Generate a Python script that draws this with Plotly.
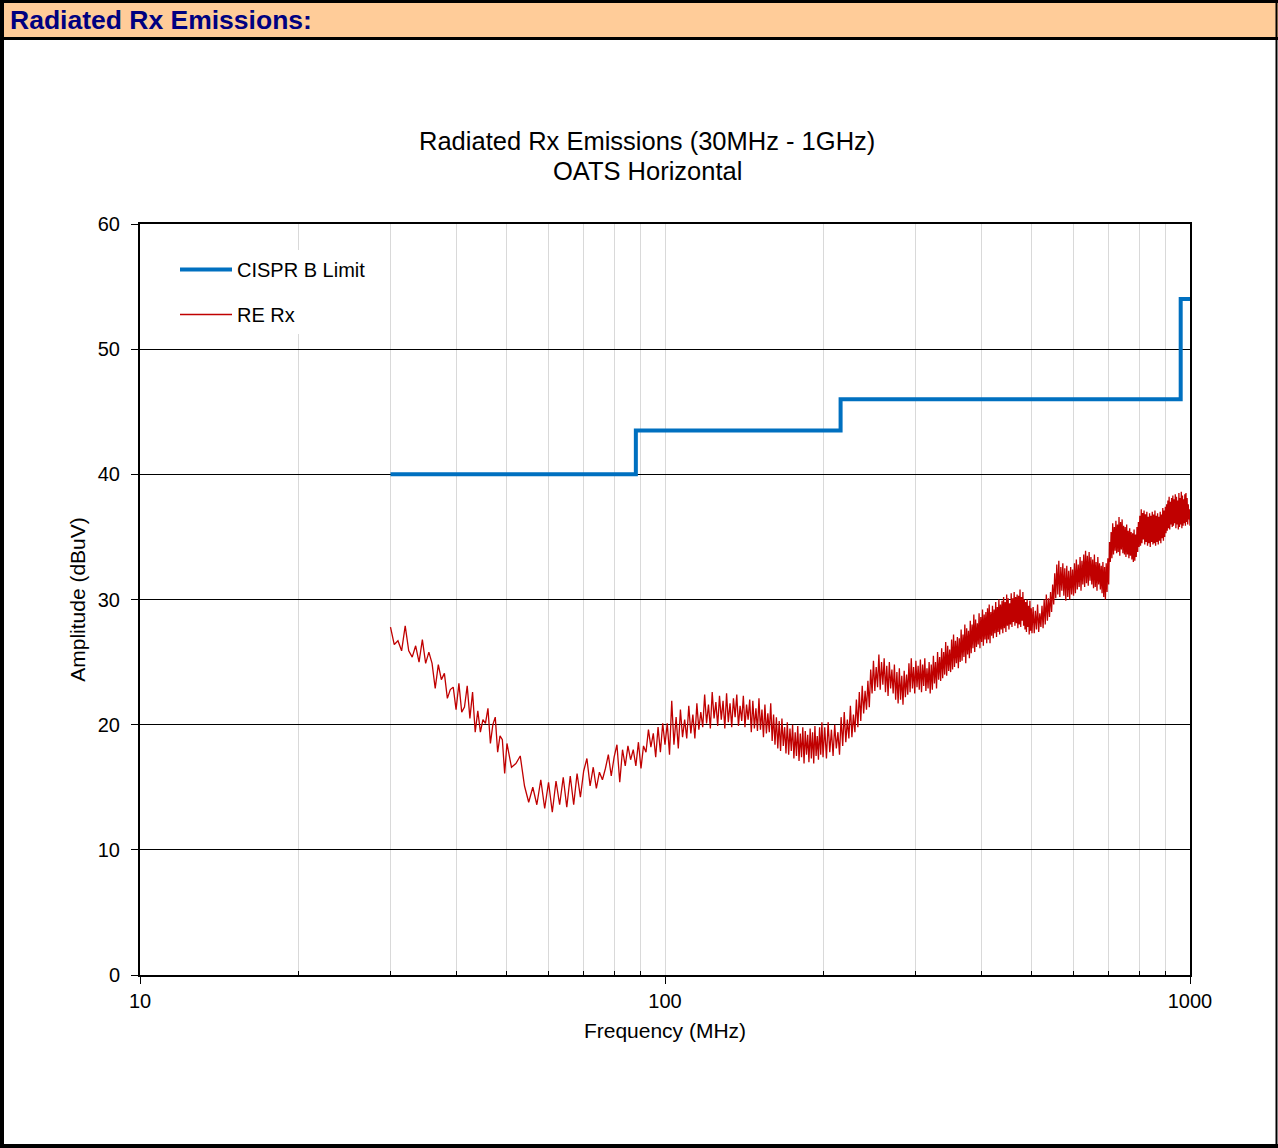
import plotly.graph_objects as go

# ---------------- DATA ----------------
limit_freq = [30, 88, 216, 960, 1000]
limit_level = [40, 43.5, 46, 54, 54]

freq_a = [30.0, 30.5, 31.0, 31.5, 32.0, 32.5, 33.0, 33.5, 34.0, 34.5,
          35.0, 35.5, 36.0, 36.5, 37.0, 37.5, 38.0, 38.5, 39.0, 39.5,
          40.0, 40.5, 41.0, 41.5, 42.0, 42.5, 43.0, 43.5, 44.0, 44.5,
          45.0, 45.5, 46.0, 46.5, 47.0, 47.5, 48.0, 48.5, 49.0, 49.5,
          50.0]
level_a = [27.8, 26.4, 26.7, 25.9, 27.9, 25.9, 25.4, 26.3, 25.0, 26.8,
           24.9, 25.8, 24.9, 22.9, 24.8, 23.6, 24.1, 22.1, 22.8, 23.0,
           21.2, 23.3, 21.0, 21.4, 23.1, 20.5, 22.6, 19.4, 21.1, 19.4,
           20.4, 20.1, 21.3, 18.5, 20.0, 20.6, 17.8, 19.1, 18.8, 16.1,
           18.5]

freq_b = [51, 52, 53, 54, 55, 56, 57, 58, 59, 60,
          61, 62, 63, 64, 65, 66, 67, 68, 69, 70,
          71, 72, 73, 74, 75, 76, 77, 78, 79, 80,
          81, 82, 83, 84, 85, 86, 87, 88, 89, 90,
          91, 92, 93, 94, 95, 96, 97, 98, 99, 100]
level_b = [16.6, 16.9, 17.5, 15.1, 13.8, 15.0, 13.6, 15.6, 13.3, 15.4,
           13.0, 15.5, 13.6, 15.8, 13.4, 15.9, 13.6, 16.1, 14.2, 16.3,
           17.3, 15.1, 16.6, 14.9, 16.2, 15.6, 16.5, 17.6, 15.9, 17.4,
           18.4, 15.4, 18.0, 16.7, 18.3, 17.2, 18.0, 16.7, 18.6, 16.5,
           18.3, 17.8, 19.6, 18.2, 19.3, 17.4, 19.8, 17.8, 20.1, 18.4]

freq_c = [101, 102, 103, 104, 105, 106, 107, 108, 109, 110,
          111, 112, 113, 114, 115, 116, 117, 118, 119, 120,
          121, 122, 123, 124, 125, 126, 127, 128, 129, 130,
          131, 132, 133, 134, 135, 136, 137, 138, 139, 140,
          141, 142, 143, 144, 145, 146, 147, 148, 149, 150,
          151, 152, 153, 154, 155, 156, 157, 158, 159, 160,
          161, 162, 163, 164, 165, 166, 167, 168, 169, 170,
          171, 172, 173, 174, 175, 176, 177, 178, 179, 180,
          181, 182, 183, 184, 185, 186, 187, 188, 189, 190,
          191, 192, 193, 194, 195, 196, 197, 198, 199, 200]
level_c = [20.1, 17.6, 21.9, 18.4, 20.6, 18.1, 21.2, 19.0, 20.4, 18.9,
           21.5, 19.3, 20.8, 18.9, 21.7, 19.6, 21.0, 19.8, 22.4, 20.1,
           21.6, 19.7, 22.6, 20.5, 21.8, 19.9, 22.3, 20.4, 21.9, 19.7,
           22.5, 20.2, 21.7, 19.8, 22.1, 20.6, 22.4, 19.9, 21.5, 20.3,
           22.3, 19.8, 21.6, 20.4, 22.0, 19.4, 21.9, 19.7, 21.3, 19.5,
           22.1, 19.6, 21.2, 19.0, 21.6, 19.3, 20.9, 19.4, 21.7, 18.7,
           20.8, 18.4, 20.6, 18.1, 20.3, 17.9, 20.5, 18.3, 19.8, 17.7,
           20.2, 17.6, 19.7, 17.9, 20.0, 17.3, 19.4, 17.5, 19.9, 17.1,
           19.3, 17.4, 19.8, 16.9, 19.5, 17.6, 19.2, 17.0, 19.7, 17.3,
           19.4, 16.9, 19.9, 17.5, 19.1, 17.2, 19.8, 17.6, 20.2, 17.4]

freq_d = [201.5, 203.0, 204.5, 206.0, 207.5, 209.0, 210.5, 212.0, 213.5, 215.0,
          216.5, 218.0, 219.5, 221.0, 222.5, 224.0, 225.5, 227.0, 228.5, 230.0,
          231.5, 233.0, 234.5, 236.0, 237.5, 239.0, 240.5, 242.0, 243.5, 245.0,
          246.5, 248.0, 249.5, 251.0, 252.5, 254.0, 255.5, 257.0, 258.5, 260.0,
          261.5, 263.0, 264.5, 266.0, 267.5, 269.0, 270.5, 272.0, 273.5, 275.0,
          276.5, 278.0, 279.5, 281.0, 282.5, 284.0, 285.5, 287.0, 288.5, 290.0,
          291.5, 293.0, 294.5, 296.0, 297.5, 299.0, 300.5, 302.0, 303.5, 305.0,
          306.5, 308.0, 309.5, 311.0, 312.5, 314.0, 315.5, 317.0, 318.5, 320.0,
          321.5, 323.0, 324.5, 326.0, 327.5, 329.0, 330.5, 332.0, 333.5, 335.0,
          336.5, 338.0, 339.5, 341.0, 342.5, 344.0, 345.5, 347.0, 348.5, 350.0,
          351.5, 353.0, 354.5, 356.0, 357.5, 359.0, 360.5, 362.0, 363.5, 365.0,
          366.5, 368.0, 369.5, 371.0, 372.5, 374.0, 375.5, 377.0, 378.5, 380.0,
          381.5, 383.0, 384.5, 386.0, 387.5, 389.0, 390.5, 392.0, 393.5, 395.0,
          396.5, 398.0, 399.5, 401.0, 402.5, 404.0, 405.5, 407.0, 408.5, 410.0,
          411.5, 413.0, 414.5, 416.0, 417.5, 419.0, 420.5, 422.0, 423.5, 425.0,
          426.5, 428.0, 429.5, 431.0, 432.5, 434.0, 435.5, 437.0, 438.5, 440.0,
          441.5, 443.0, 444.5, 446.0, 447.5, 449.0, 450.5, 452.0, 453.5, 455.0,
          456.5, 458.0, 459.5, 461.0, 462.5, 464.0, 465.5, 467.0, 468.5, 470.0,
          471.5, 473.0, 474.5, 476.0, 477.5, 479.0, 480.5, 482.0, 483.5, 485.0,
          486.5, 488.0, 489.5, 491.0, 492.5, 494.0, 495.5, 497.0, 498.5, 500.0]
level_d = [19.8, 17.3, 20.2, 17.8, 19.6, 17.5, 20.0, 18.1, 19.4, 17.6,
           20.6, 18.3, 21.0, 18.6, 20.4, 18.9, 21.5, 19.0, 20.8, 19.4,
           22.0, 19.8, 22.6, 20.3, 23.1, 20.9, 22.7, 21.2, 23.5, 21.4,
           24.4, 22.5, 25.1, 22.7, 24.6, 23.0, 25.6, 22.8, 25.0, 23.2,
           25.3, 22.6, 24.7, 22.3, 25.0, 22.9, 24.4, 22.5, 24.8, 22.0,
           24.2, 21.7, 24.5, 22.0, 23.9, 21.6, 24.3, 22.2, 24.0, 22.4,
           24.9, 22.6, 25.3, 22.9, 24.6, 22.5, 25.1, 23.0, 24.7, 22.8,
           25.2, 22.6, 24.8, 23.1, 25.3, 22.7, 24.5, 22.9, 25.0, 22.5,
           24.8, 22.8, 25.5, 23.3, 25.0, 22.9, 25.8, 23.6, 25.4, 23.5,
           26.1, 23.7, 25.8, 24.0, 26.6, 23.9, 26.3, 24.3, 26.0, 24.2,
           26.8, 24.4, 27.2, 24.6, 26.7, 24.9, 27.0, 24.5, 26.9, 25.0,
           27.6, 25.1, 27.2, 25.4, 28.0, 24.9, 27.7, 25.6, 27.5, 25.3,
           28.3, 25.7, 28.0, 26.1, 28.8, 25.8, 28.4, 26.2, 28.1, 26.4,
           28.9, 26.1, 28.6, 26.6, 29.2, 26.3, 28.8, 26.8, 29.0, 26.5,
           29.3, 26.8, 29.6, 26.5, 29.0, 27.1, 29.5, 26.9, 29.2, 27.3,
           29.8, 27.0, 29.4, 27.4, 30.0, 27.2, 29.6, 27.6, 29.9, 27.3,
           30.2, 27.7, 29.8, 27.4, 30.4, 27.9, 30.1, 27.6, 29.7, 28.0,
           30.5, 27.8, 30.1, 28.2, 30.6, 27.9, 30.2, 28.1, 30.4, 27.7,
           30.3, 28.0, 30.8, 27.8, 30.2, 28.3, 30.6, 27.9, 30.0, 27.6,
           29.8, 27.4, 30.0, 27.8, 29.5, 27.2, 29.9, 27.5, 29.3, 27.3]

freq_e = [502.5, 505.0, 507.5, 510.0, 512.5, 515.0, 517.5, 520.0, 522.5, 525.0,
          527.5, 530.0, 532.5, 535.0, 537.5, 540.0, 542.5, 545.0, 547.5, 550.0,
          552.5, 555.0, 557.5, 560.0, 562.5, 565.0, 567.5, 570.0, 572.5, 575.0,
          577.5, 580.0, 582.5, 585.0, 587.5, 590.0, 592.5, 595.0, 597.5, 600.0,
          602.5, 605.0, 607.5, 610.0, 612.5, 615.0, 617.5, 620.0, 622.5, 625.0,
          627.5, 630.0, 632.5, 635.0, 637.5, 640.0, 642.5, 645.0, 647.5, 650.0,
          652.5, 655.0, 657.5, 660.0, 662.5, 665.0, 667.5, 670.0, 672.5, 675.0,
          677.5, 680.0, 682.5, 685.0, 687.5, 690.0, 692.5, 695.0, 697.5, 700.0,
          702.5, 705.0, 707.5, 710.0, 712.5, 715.0, 717.5, 720.0, 722.5, 725.0,
          727.5, 730.0, 732.5, 735.0, 737.5, 740.0, 742.5, 745.0, 747.5, 750.0,
          752.5, 755.0, 757.5, 760.0, 762.5, 765.0, 767.5, 770.0, 772.5, 775.0,
          777.5, 780.0, 782.5, 785.0, 787.5, 790.0, 792.5, 795.0, 797.5, 800.0,
          802.5, 805.0, 807.5, 810.0, 812.5, 815.0, 817.5, 820.0, 822.5, 825.0,
          827.5, 830.0, 832.5, 835.0, 837.5, 840.0, 842.5, 845.0, 847.5, 850.0,
          852.5, 855.0, 857.5, 860.0, 862.5, 865.0, 867.5, 870.0, 872.5, 875.0,
          877.5, 880.0, 882.5, 885.0, 887.5, 890.0, 892.5, 895.0, 897.5, 900.0,
          902.5, 905.0, 907.5, 910.0, 912.5, 915.0, 917.5, 920.0, 922.5, 925.0,
          927.5, 930.0, 932.5, 935.0, 937.5, 940.0, 942.5, 945.0, 947.5, 950.0,
          952.5, 955.0, 957.5, 960.0, 962.5, 965.0, 967.5, 970.0, 972.5, 975.0,
          977.5, 980.0, 982.5, 985.0, 987.5, 990.0, 992.5, 995.0, 997.5, 1000.0]
level_e = [29.4, 27.3, 29.1, 27.6, 29.6, 27.4, 28.9, 27.8, 29.5, 27.7,
           30.0, 28.0, 30.4, 28.3, 30.1, 28.6, 30.6, 29.0, 31.2, 29.6,
           32.1, 30.1, 32.8, 30.4, 33.1, 30.2, 32.6, 30.7, 32.9, 30.3,
           32.5, 29.9, 32.7, 30.2, 32.3, 30.0, 32.6, 30.4, 32.4, 30.3,
           32.9, 30.5, 33.2, 30.8, 32.8, 31.0, 33.4, 30.7, 33.1, 31.2,
           33.6, 31.0, 33.9, 31.3, 33.5, 31.1, 33.8, 31.5, 33.4, 31.2,
           33.2, 30.9, 33.6, 31.0, 33.0, 30.7, 33.4, 31.2, 32.9, 30.8,
           32.7, 30.5, 33.0, 30.2, 32.6, 30.0, 32.9, 30.6, 33.3, 31.2,
           34.6, 33.0, 35.4, 33.3, 36.1, 33.6, 35.8, 33.9, 36.3, 33.7,
           36.0, 33.8, 36.6, 33.5, 36.2, 34.0, 36.4, 33.7, 35.9, 33.6,
           35.8, 33.4, 36.0, 33.6, 35.5, 33.3, 35.7, 33.5, 35.4, 33.2,
           35.3, 33.0, 35.6, 33.1, 35.2, 33.4, 35.8, 33.8, 36.2, 34.2,
           36.7, 34.3, 37.2, 34.5, 36.9, 34.8, 37.1, 34.4, 36.8, 34.6,
           37.0, 34.3, 36.6, 34.5, 36.9, 34.2, 36.7, 34.6, 37.0, 34.4,
           36.8, 34.5, 37.1, 34.3, 36.7, 34.6, 36.9, 34.4, 36.6, 34.7,
           37.0, 34.5, 36.8, 34.9, 37.3, 34.7, 37.1, 35.0, 37.4, 35.3,
           37.6, 35.5, 37.9, 35.7, 38.2, 35.6, 37.8, 36.0, 38.1, 35.8,
           38.3, 35.9, 38.0, 36.1, 38.4, 35.7, 38.2, 36.0, 37.9, 35.6,
           38.5, 35.8, 38.1, 36.0, 38.6, 35.7, 38.3, 35.9, 38.0, 36.1,
           38.4, 35.9, 38.5, 36.2, 38.1, 36.0, 37.6, 36.4, 37.2, 35.9]

x_major_ticks = [10, 100, 1000]
x_minor_ticks = [20, 30, 40, 50, 60, 70, 80, 90,
                 200, 300, 400, 500, 600, 700, 800, 900]
y_ticks = [0, 10, 20, 30, 40, 50, 60]

re_freq = freq_a + freq_b + freq_c + freq_d + freq_e
re_level = level_a + level_b + level_c + level_d + level_e

# ---------------- LAYOUT HELPERS (pixel -> paper) ----------------
W, H = 1278, 1148
L, R, T, B = 140, 1190, 224, 975


def px(x):
    return (x - L) / (R - L)


def py(y):
    return (B - y) / (B - T)


FONT = "Liberation Sans, Arial, sans-serif"

fig = go.Figure()
fig.add_trace(go.Scatter(
    x=limit_freq, y=limit_level, mode="lines", name="CISPR B Limit",
    line=dict(color="#0070C0", width=4, shape="hv"), legendgroup="a"))
fig.add_trace(go.Scatter(
    x=re_freq, y=re_level, mode="lines", name="RE Rx",
    line=dict(color="#C00000", width=1.3, simplify=False), legendgroup="b"))

shapes = []


def rect(x0, y0, x1, y1, color):
    shapes.append(dict(type="rect", xref="paper", yref="paper",
                       x0=px(x0), x1=px(x1), y0=py(y0), y1=py(y1),
                       fillcolor=color, line=dict(width=0), layer="above"))


rect(0, 3, W, 38, "#FFCC99")
rect(0, 0, W, 3, "#000000")
rect(0, 37, W, 40, "#000000")
rect(0, 0, 4, H, "#000000")
rect(1275.5, 0, 1277.5, H, "#000000")
rect(0, 1144, W, H, "#000000")

fig.update_layout(
    width=W, height=H,
    margin=dict(l=L, r=W - R, t=T, b=H - B, pad=0),
    paper_bgcolor="white", plot_bgcolor="white",
    font=dict(family=FONT, color="black", size=20),
    shapes=shapes,
    showlegend=True,
    legend=dict(x=px(175), y=py(250), xanchor="left", yanchor="top",
                bgcolor="white", borderwidth=0, font=dict(size=20),
                tracegroupgap=16, traceorder="grouped", itemwidth=52),
    annotations=[
        dict(text="<b>Radiated Rx Emissions:</b>", xref="paper", yref="paper",
             x=px(8), y=py(20), xanchor="left", yanchor="middle",
             showarrow=False, font=dict(size=26.5, color="#000080", family=FONT)),
        dict(text="Radiated Rx Emissions (30MHz - 1GHz)",
             xref="paper", yref="paper", x=px(647), y=py(141),
             xanchor="center", yanchor="middle", showarrow=False,
             font=dict(size=25.5, color="black", family=FONT)),
        dict(text="OATS Horizontal",
             xref="paper", yref="paper", x=px(647), y=py(171),
             xanchor="center", yanchor="middle", showarrow=False,
             font=dict(size=25.5, color="black", family=FONT)),
    ],
)

fig.update_xaxes(
    type="log", range=[1, 3],
    tickvals=x_major_ticks, ticktext=[str(v) for v in x_major_ticks],
    ticks="outside", ticklen=7, tickwidth=1, tickcolor="black",
    showgrid=True, gridcolor="#D9D9D9", gridwidth=1,
    minor=dict(tickvals=x_minor_ticks, ticks="inside", ticklen=4,
               tickcolor="black", showgrid=True, gridcolor="#D9D9D9",
               gridwidth=1),
    showline=True, linecolor="black", linewidth=2, mirror=True,
    tickfont=dict(size=20),
    title=dict(text="Frequency (MHz)", font=dict(size=21), standoff=12),
    zeroline=False,
)
fig.update_yaxes(
    range=[0, 60], tickvals=y_ticks,
    ticks="outside", ticklen=7, tickwidth=1, tickcolor="black",
    ticklabelstandoff=7,
    showgrid=True, gridcolor="black", gridwidth=1,
    showline=True, linecolor="black", linewidth=2, mirror=True,
    tickfont=dict(size=20),
    title=dict(text="Amplitude (dBuV)", font=dict(size=21), standoff=6),
    zeroline=False,
)

fig.write_html("out.html")
